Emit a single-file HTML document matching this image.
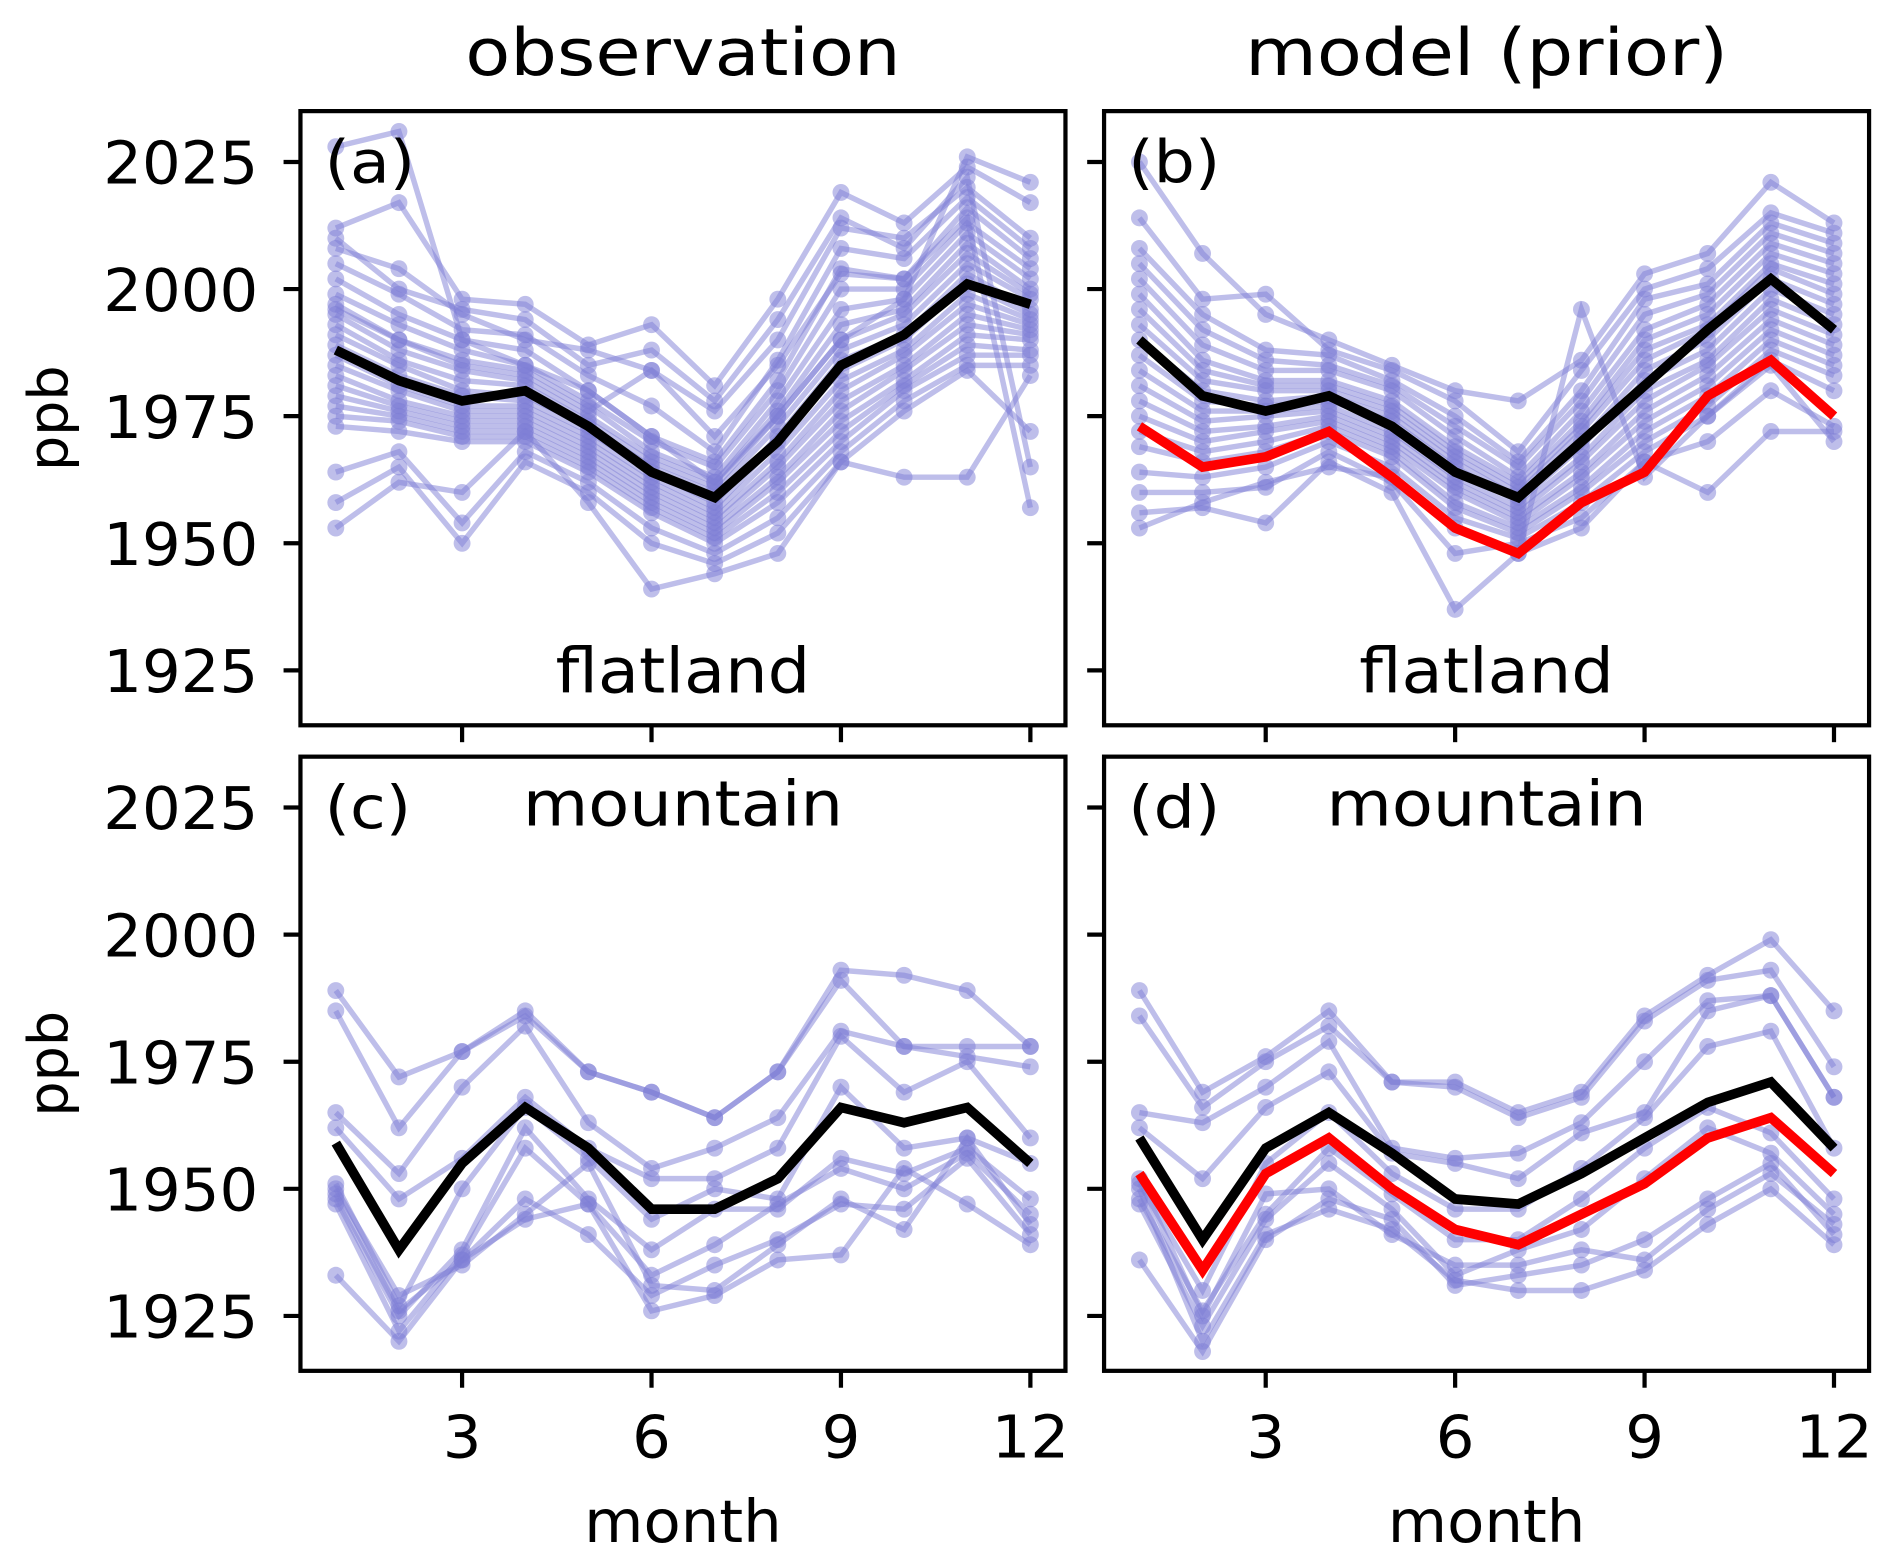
<!DOCTYPE html>
<html><head><meta charset="utf-8"><style>
html,body{margin:0;padding:0;background:#fff}
svg{display:block}
text{font-family:"DejaVu Sans","Liberation Sans",sans-serif;fill:#000}
</style></head><body>
<svg id="fig" width="1892" height="1564" viewBox="0 0 1568 1296" xmlns="http://www.w3.org/2000/svg"></svg>
<script>
const months=[1,2,3,4,5,6,7,8,9,10,11,12];
const xTicks=[3,6,9,12];
const yTicks=[1925,1950,1975,2000,2025];
const titles=["observation","model (prior)"];
const blackA=[1988,1982,1978,1980,1973,1964,1959,1970,1985,1991,2001,1997];
const blackB=[1990,1979,1976,1979,1973,1964,1959,1970,1981,1992,2002,1992];
const redB=[1973,1965,1967,1972,1963,1953,1948,1958,1964,1979,1986,1975];
const blackC=[1959,1938,1955,1966,1958,1946,1946,1952,1966,1963,1966,1955];
const blackD=[1960,1940,1958,1965,1957,1948,1947,1953,1960,1967,1971,1958];
const redD=[1953,1934,1953,1960,1950,1942,1939,1945,1951,1960,1964,1953];
const blueA=[
[2028,2031,1990,1985,1980,1971,1962,1975,1990,1998,2026,2021],
[2012,2017,1998,1997,1989,1993,1981,1998,2019,2013,2024,2017],
[2008,2004,1995,1990,1988,1984,1976,1990,2012,2010,2020,2010],
[2005,1999,1992,1991,1983,1977,1968,1986,2008,2006,2018,2008],
[2002,1995,1990,1988,1980,1971,1966,1982,2004,2002,2016,2006],
[1999,1993,1988,1985,1978,1970,1965,1980,2000,2000,2013,2004],
[1997,1990,1986,1984,1977,1968,1963,1978,1996,1998,2011,2002],
[1995,1988,1984,1982,1975,1967,1962,1976,1993,1996,2009,2000],
[1993,1986,1982,1981,1974,1966,1961,1975,1990,1995,2007,1999],
[1991,1985,1980,1979,1973,1965,1960,1973,1988,1993,2005,1998],
[1989,1983,1979,1978,1972,1964,1958,1971,1986,1991,2003,1996],
[1987,1981,1977,1977,1971,1963,1957,1970,1984,1990,2001,1995],
[1985,1980,1976,1976,1970,1962,1956,1968,1982,1988,1999,1994],
[1983,1978,1975,1975,1969,1961,1955,1966,1980,1987,1997,1993],
[1981,1977,1974,1974,1968,1960,1954,1965,1978,1985,1995,1992],
[1979,1976,1973,1973,1967,1959,1953,1963,1976,1984,1993,1991],
[1977,1975,1972,1972,1966,1958,1952,1962,1974,1982,1991,1990],
[1975,1974,1971,1971,1965,1957,1951,1960,1972,1981,1989,1988],
[1973,1972,1970,1970,1964,1956,1950,1958,1970,1980,1987,1987],
[1964,1968,1954,1968,1962,1953,1948,1955,1968,1978,1985,1985],
[1958,1965,1950,1966,1960,1950,1946,1952,1966,1963,1963,1983],
[1953,1962,1960,1972,1958,1941,1944,1948,1966,1976,1984,1972],
[2010,2000,1996,1994,1985,1988,1978,1994,2014,2008,2022,1965],
[1996,1990,1985,1983,1976,1984,1971,1985,2003,2002,2014,1957]];
const blueB=[
[2025,2007,1995,1990,1985,1980,1978,1986,2003,2007,2021,2013],
[2014,1998,1999,1988,1984,1978,1968,1984,2000,2004,2015,2011],
[2008,1995,1988,1987,1982,1975,1966,1980,1998,2001,2013,2009],
[2005,1992,1986,1985,1981,1973,1965,1978,1995,1999,2011,2007],
[2002,1989,1984,1984,1980,1971,1963,1976,1992,1997,2009,2005],
[1999,1986,1982,1982,1978,1969,1962,1974,1990,1995,2007,2003],
[1996,1984,1981,1981,1977,1968,1961,1973,1988,1993,2005,2001],
[1993,1982,1980,1980,1976,1967,1960,1972,1986,1992,2004,1999],
[1990,1980,1978,1979,1975,1966,1959,1970,1984,1990,2002,1997],
[1987,1978,1977,1978,1974,1965,1958,1969,1982,1988,2000,1995],
[1984,1976,1976,1977,1972,1963,1957,1967,1980,1986,1998,1993],
[1981,1974,1975,1976,1971,1962,1956,1966,1978,1985,1996,1991],
[1978,1972,1973,1975,1970,1961,1955,1964,1976,1983,1994,1989],
[1975,1970,1972,1974,1969,1960,1954,1963,1974,1981,1992,1987],
[1972,1968,1970,1973,1968,1958,1953,1961,1972,1979,1990,1985],
[1969,1966,1968,1972,1967,1957,1952,1960,1970,1977,1988,1983],
[1964,1963,1965,1970,1965,1955,1951,1958,1968,1975,1986,1980],
[1960,1960,1961,1968,1962,1948,1950,1955,1966,1960,1972,1972],
[1956,1957,1954,1966,1960,1937,1948,1953,1966,1970,1980,1973],
[1953,1958,1962,1965,1963,1953,1948,1996,1963,1975,1985,1970]];
const blueC=[
[1989,1972,1977,1984,1973,1969,1964,1973,1993,1992,1989,1978],
[1985,1962,1977,1985,1973,1969,1964,1973,1991,1978,1978,1978],
[1965,1953,1970,1982,1963,1954,1958,1964,1981,1978,1976,1974],
[1962,1948,1956,1968,1958,1952,1952,1958,1980,1969,1975,1960],
[1951,1927,1950,1966,1956,1944,1950,1948,1970,1958,1960,1955],
[1948,1925,1938,1962,1948,1938,1946,1946,1956,1953,1958,1948],
[1947,1922,1937,1958,1947,1933,1939,1947,1954,1950,1957,1945],
[1933,1920,1936,1948,1941,1929,1935,1940,1947,1946,1956,1941],
[1949,1926,1936,1944,1947,1926,1929,1936,1937,1954,1947,1939],
[1950,1929,1935,1945,1955,1931,1930,1939,1948,1942,1960,1943]];
const blueD=[
[1989,1969,1976,1985,1971,1971,1965,1969,1984,1992,1999,1985],
[1984,1966,1975,1982,1971,1970,1964,1968,1983,1991,1993,1974],
[1965,1963,1970,1979,1958,1956,1957,1963,1975,1987,1988,1968],
[1962,1952,1966,1973,1957,1955,1952,1961,1965,1985,1988,1968],
[1951,1930,1955,1965,1953,1946,1946,1954,1964,1978,1981,1958],
[1948,1926,1945,1958,1949,1940,1940,1948,1958,1966,1961,1948],
[1947,1923,1944,1955,1946,1933,1938,1942,1952,1962,1957,1945],
[1936,1918,1940,1948,1944,1931,1933,1935,1940,1948,1955,1941],
[1950,1920,1941,1946,1942,1932,1930,1930,1934,1943,1950,1939],
[1952,1925,1949,1950,1941,1935,1935,1938,1936,1946,1953,1943]];

const NS="http://www.w3.org/2000/svg";
const svg=document.getElementById('fig');
function mk(tag,attrs,parent){const e=document.createElementNS(NS,tag);for(const k in attrs)e.setAttribute(k,attrs[k]);(parent||svg).appendChild(e);return e;}
function txt(parent,x,y,s,size,anchor,sx,rot){
 const g=mk('g',{transform:`translate(${x},${y})`+(rot?` rotate(${rot})`:'')+` scale(${sx},1)`},parent);
 const t=mk('text',{x:0,y:0,'font-size':size,'text-anchor':anchor},g);
 t.textContent=s;
 return t;
}
const SX=1.03;
const panels=[
 {id:'a',x0:249,y0:92,blue:blueA,black:blackA,red:null,label:'(a)',name:'flatland',nameY:574,yl:true,xl:false},
 {id:'b',x0:915,y0:92,blue:blueB,black:blackB,red:redB,label:'(b)',name:'flatland',nameY:574,yl:false,xl:false},
 {id:'c',x0:249,y0:627,blue:blueC,black:blackC,red:null,label:'(c)',name:'mountain',nameY:684,yl:true,xl:true},
 {id:'d',x0:915,y0:627,blue:blueD,black:blackD,red:redD,label:'(d)',name:'mountain',nameY:684,yl:false,xl:true}];
const W=634,H=509,YMAX=2035,YMIN=1914.2;
panels.forEach(p=>{
 const g=mk('g',{});
 
 
 const xs=m=>p.x0+29.3+(m-1)*52.33;
 const ys=v=>p.y0+(YMAX-v)/(YMAX-YMIN)*H;
 p.blue.forEach((s,i)=>{
  const pts=s.map((v,j)=>xs(months[j]).toFixed(1)+','+ys(v).toFixed(1)).join(' ');
  const l=mk('polyline',{points:pts,fill:'none',stroke:'#7e7ed6','stroke-width':4.5,'stroke-opacity':0.5},g);
  
  
  s.forEach((v,j)=>{const c=mk('circle',{cx:xs(months[j]),cy:ys(v),r:7,fill:'#7e7ed6','fill-opacity':0.5},g);
   
   });
 });
 const bl=mk('polyline',{points:p.black.map((v,j)=>xs(months[j])+','+ys(v)).join(' '),fill:'none',stroke:'#000','stroke-width':8},g);
 
 
 if(p.red){const rl=mk('polyline',{points:p.red.map((v,j)=>xs(months[j])+','+ys(v)).join(' '),fill:'none',stroke:'#ff0000','stroke-width':8},g);
  
  }
 const fr=mk('rect',{x:p.x0,y:p.y0,width:W,height:H,fill:'none',stroke:'#000','stroke-width':3.5},g);
 
 
 yTicks.forEach(t=>{const y=ys(t);mk('line',{x1:p.x0-14,x2:p.x0,y1:y,y2:y,stroke:'#000','stroke-width':3.5},g);
  if(p.yl){const tx=txt(g,p.x0-35,y+18,String(t),49,'end',SX);
   
   }});
 xTicks.forEach(t=>{const x=xs(t);mk('line',{x1:x,x2:x,y1:p.y0+H,y2:p.y0+H+14,stroke:'#000','stroke-width':3.5},g);
  if(p.xl){const tx=txt(g,x,p.y0+H+72,String(t),49,'middle',SX);
   
   }});
 const lb=txt(g,p.x0+20,p.y0+59,p.label,49,'start',1.1);
 
 
 const nm=txt(g,p.x0+W/2,p.nameY,p.name,52,'middle',1.07);
 
 
 if(p.yl){const yt=txt(g,56,p.y0+H/2,'ppb',46,'middle',1,-90);
  
  }
 if(p.xl){const xt=txt(g,p.x0+W/2,1278,'month',49,'middle',SX);
  
  }
});
titles.forEach((t,i)=>{const tx=txt(svg,(i?915:249)+W/2,62,t,54,'middle',1.13);
 
 });
</script>
</body></html>
